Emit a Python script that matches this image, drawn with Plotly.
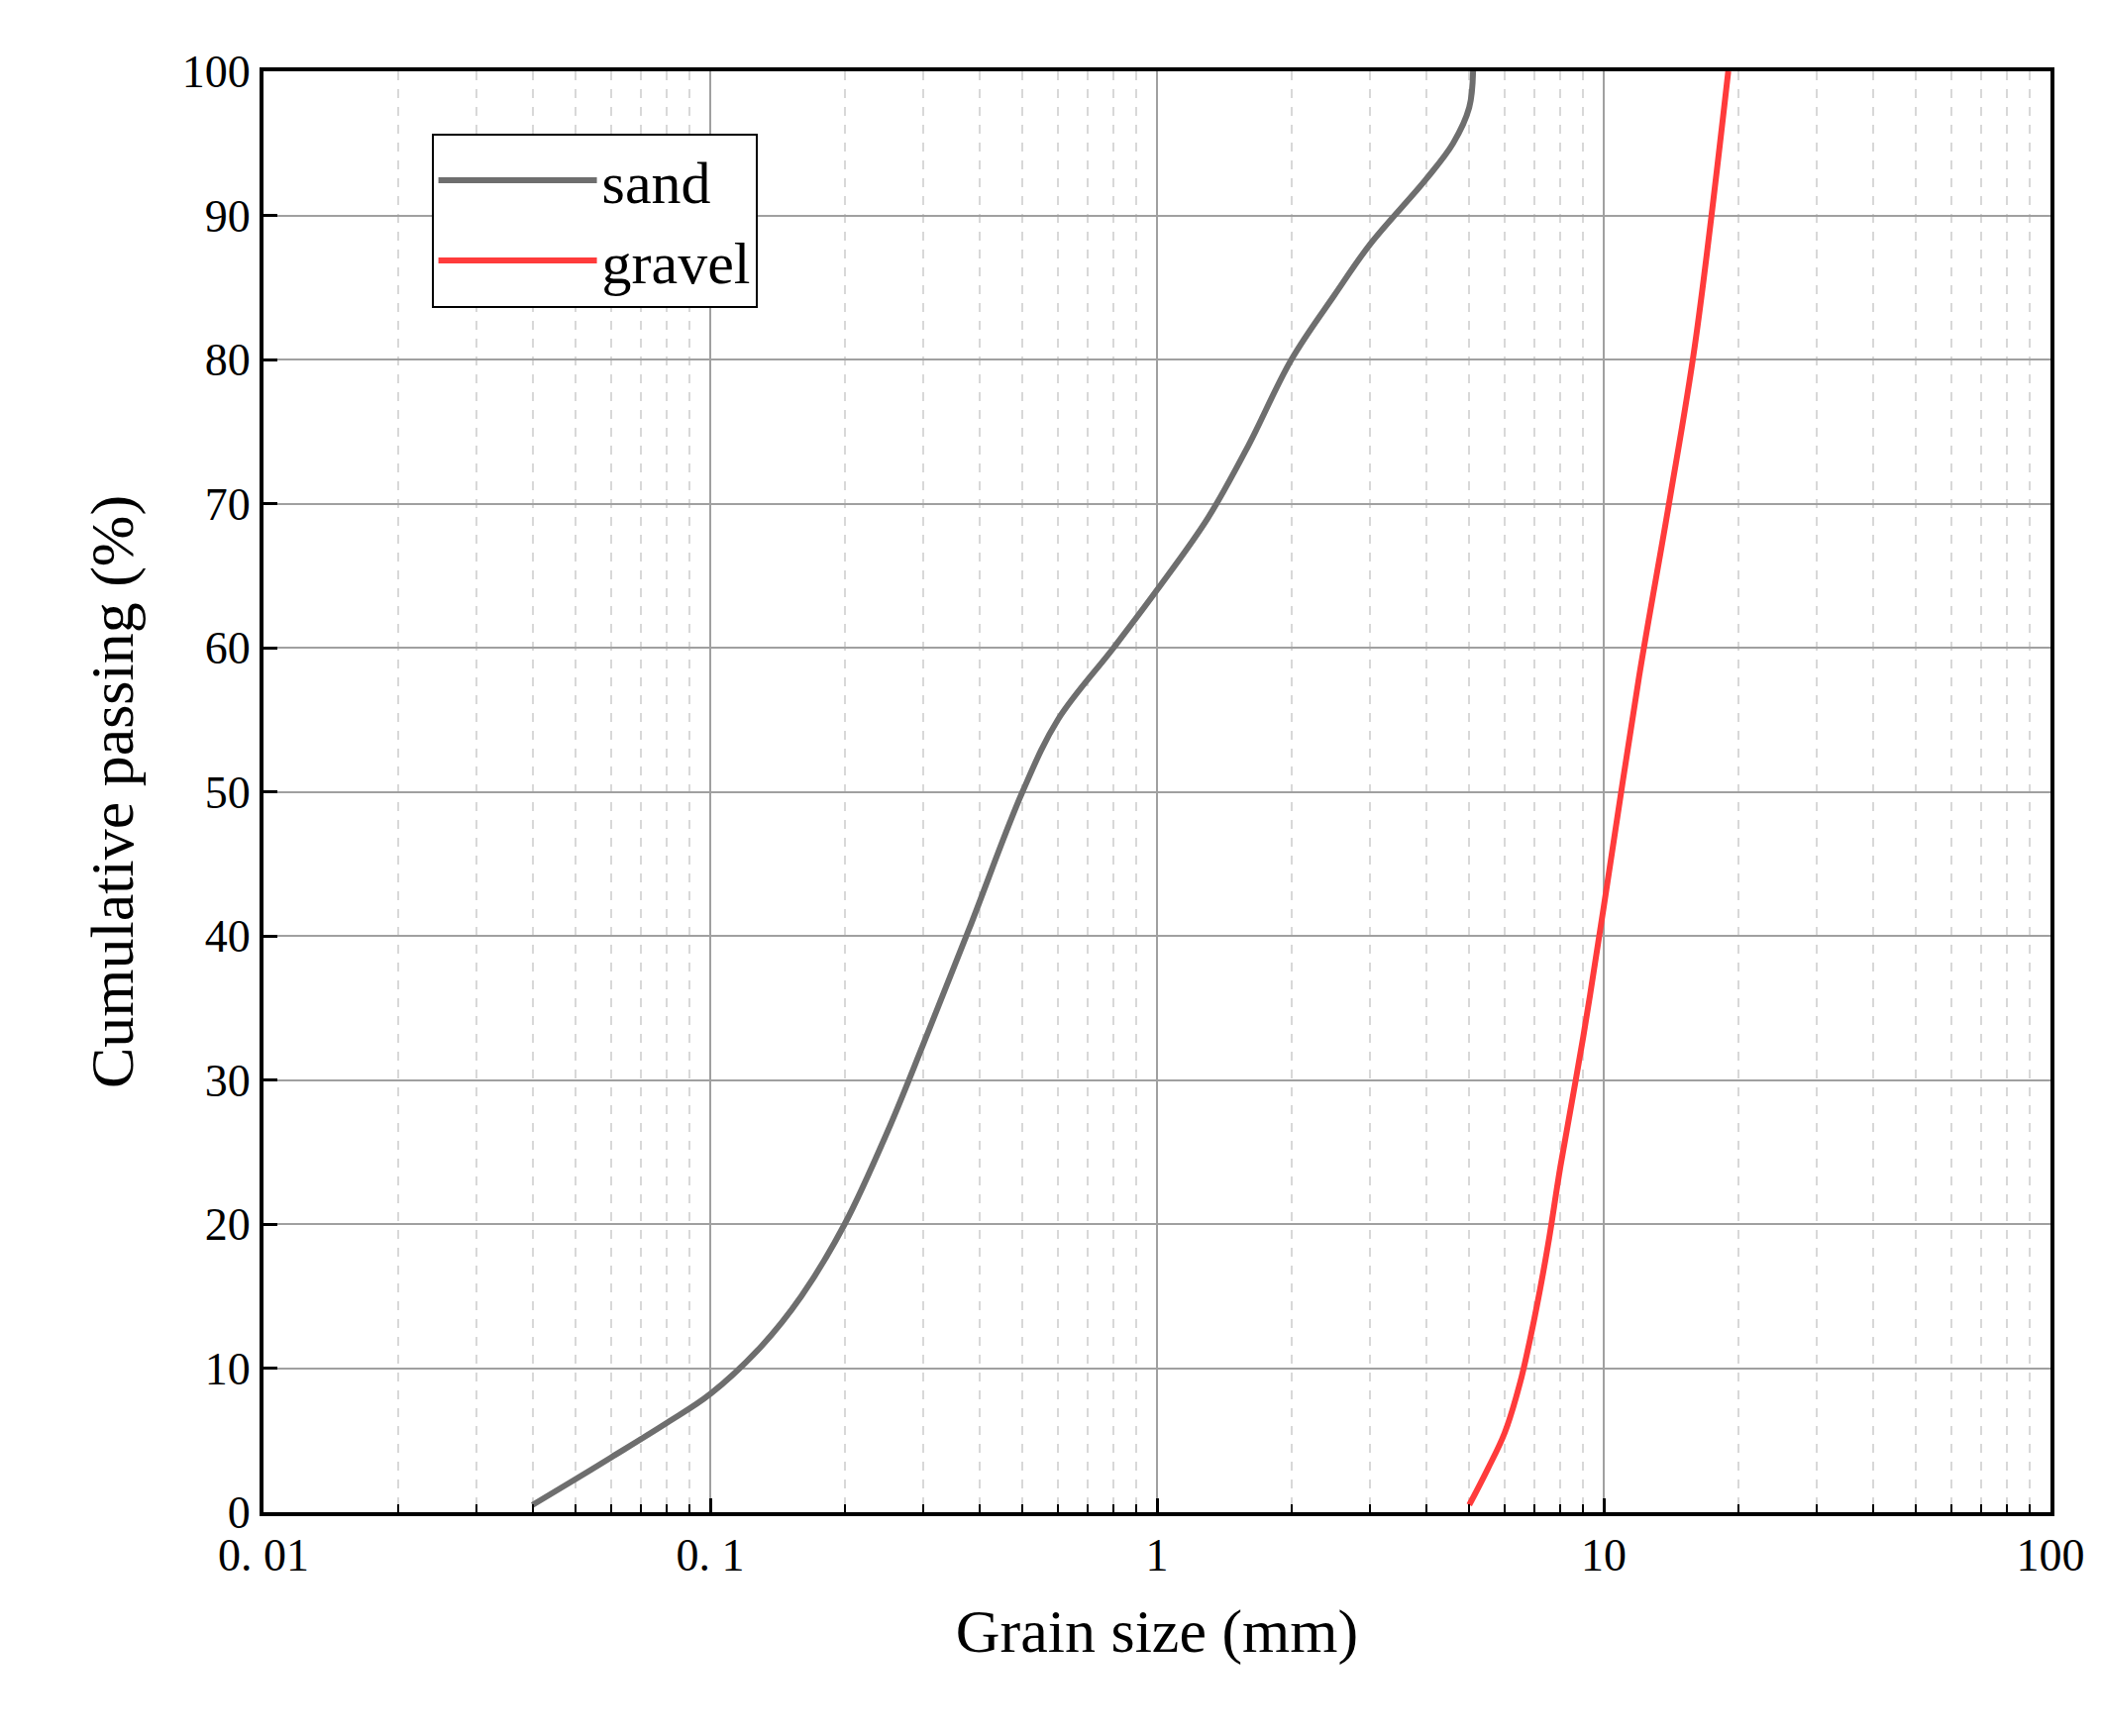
import plotly.graph_objects as go

# grain size distribution
sand_size = [0.04, 0.05, 0.06, 0.08, 0.1, 0.13, 0.16, 0.2, 0.25, 0.3, 0.38, 0.5, 0.6, 0.8, 1.0, 1.3, 1.6, 2.0, 2.5, 3.0, 4.0, 4.6, 5.0, 5.1]
sand_pass = [0.5, 2.3, 3.8, 6.2, 8.2, 11.5, 15.0, 20.0, 26.5, 32.5, 40.5, 50.0, 55.0, 60.0, 64.0, 69.0, 74.0, 80.0, 84.5, 88.0, 92.5, 95.0, 97.5, 100.0]
gravel_size = [5.0, 5.5, 6.0, 6.5, 7.0, 7.5, 8.0, 9.0, 10.0, 12.0, 14.0, 16.0, 19.0]
gravel_pass = [0.5, 3.0, 5.5, 9.0, 13.5, 18.5, 24.0, 33.0, 42.0, 58.0, 70.0, 81.0, 100.0]

x_ticks = [0.01, 0.1, 1, 10, 100]
x_labels = ["0. 01", "0. 1", "1", "10", "100"]
x_minor = [m * d for d in [0.01, 0.1, 1, 10] for m in range(2, 10)]

font = "Liberation Serif"

fig = go.Figure()
fig.add_trace(go.Scatter(x=sand_size, y=sand_pass, mode="lines", name="sand",
                         line=dict(color="#6e6e6e", width=6, shape="spline")))
fig.add_trace(go.Scatter(x=gravel_size, y=gravel_pass, mode="lines", name="gravel",
                         line=dict(color="#ff3b3b", width=6, shape="spline")))

fig.update_xaxes(type="log", range=[-2, 2], tickvals=x_ticks, ticktext=x_labels,
                 showline=True, linecolor="black", linewidth=4, mirror=True,
                 ticks="inside", ticklen=14, tickwidth=3, tickcolor="black",
                 showgrid=True, gridcolor="#a0a0a0", gridwidth=2,
                 minor=dict(tickvals=x_minor, ticks="inside", ticklen=8, tickwidth=2, tickcolor="black",
                            showgrid=True, gridcolor="#d8d8d8", griddash="dash", gridwidth=1.5),
                 title=dict(text="Grain size (mm)", standoff=30,
                            font=dict(size=62, family=font, color="black")),
                 tickfont=dict(size=46, family=font, color="black"), zeroline=False)
fig.update_yaxes(range=[0, 100],
                 showline=True, linecolor="black", linewidth=4, mirror=True,
                 ticks="inside", ticklen=14, tickwidth=3, tickcolor="black",
                 showgrid=True, gridcolor="#a0a0a0", gridwidth=2,
                 minor=dict(tickvals=list(range(10, 100, 20)), ticks="inside", ticklen=14, tickwidth=3,
                            tickcolor="black", showgrid=True, gridcolor="#d8d8d8",
                            griddash="dash", gridwidth=1.5),
                 tickvals=list(range(0, 101, 10)),
                 title=dict(text="Cumulative passing (%)", standoff=30,
                            font=dict(size=62, family=font, color="black")),
                 tickfont=dict(size=46, family=font, color="black"), zeroline=False)

fig.update_layout(width=2121, height=1753, plot_bgcolor="white", paper_bgcolor="white",
                  margin=dict(l=258, r=59, t=64, b=234),
                  legend=dict(x=0.094, y=0.957, xanchor="left", yanchor="top",
                              bordercolor="black", borderwidth=2, bgcolor="white",
                              font=dict(size=60, family=font, color="black"), itemwidth=160))
fig.write_html("out.html")
